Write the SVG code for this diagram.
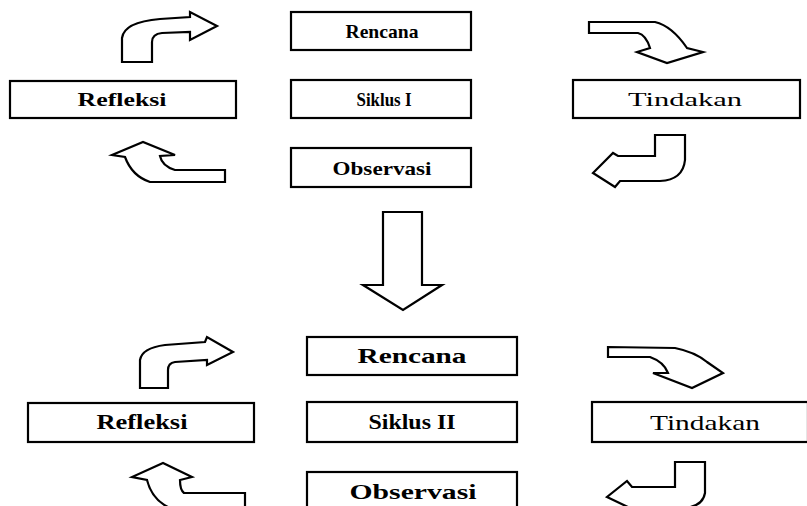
<svg xmlns="http://www.w3.org/2000/svg" width="807" height="506" viewBox="0 0 807 506">
<style>
.box{fill:#fff;stroke:#000;stroke-width:2.2}
.arr{fill:#fff;stroke:#000;stroke-width:2.2;stroke-linejoin:miter}
.t{font-family:"Liberation Serif","Times New Roman",serif;font-weight:bold;text-anchor:middle;fill:#000}
.s{font-size:19px}
.b{font-size:21px}
.n{font-weight:normal}
</style>
<rect width="807" height="506" fill="#fff"/>
<g id="rencana1"><rect class="box" x="291" y="12" width="180" height="38"/><text class="t s" x="382" y="38" textLength="73" lengthAdjust="spacingAndGlyphs">Rencana</text></g>
<g id="siklus1"><rect class="box" x="291" y="80" width="180" height="38"/><text class="t s" x="384" y="106" textLength="55" lengthAdjust="spacingAndGlyphs">Siklus I</text></g>
<g id="observasi1"><rect class="box" x="291" y="148" width="180" height="39"/><text class="t s" x="382" y="175" textLength="99" lengthAdjust="spacingAndGlyphs">Observasi</text></g>
<g id="refleksi1"><rect class="box" x="10" y="81" width="226" height="37"/><text class="t s" x="122" y="106" textLength="89" lengthAdjust="spacingAndGlyphs">Refleksi</text></g>
<g id="tindakan1"><rect class="box" x="573" y="80" width="227" height="38"/><text class="t s n" x="685" y="106" textLength="114" lengthAdjust="spacingAndGlyphs">Tindakan</text></g>
<g id="rencana2"><rect class="box" x="307" y="337" width="210" height="38"/><text class="t b" x="412" y="363" textLength="109" lengthAdjust="spacingAndGlyphs">Rencana</text></g>
<g id="siklus2"><rect class="box" x="307" y="402" width="210" height="40"/><text class="t b" x="412" y="429" textLength="87" lengthAdjust="spacingAndGlyphs">Siklus II</text></g>
<g id="observasi2"><rect class="box" x="307" y="472" width="210" height="40"/><text class="t b" x="413" y="499" textLength="127" lengthAdjust="spacingAndGlyphs">Observasi</text></g>
<g id="refleksi2"><rect class="box" x="28" y="403" width="226" height="39"/><text class="t b" x="142" y="429" textLength="91" lengthAdjust="spacingAndGlyphs">Refleksi</text></g>
<g id="tindakan2"><rect class="box" x="592" y="402" width="216" height="40"/><text class="t b n" x="705" y="430" textLength="110" lengthAdjust="spacingAndGlyphs">Tindakan</text></g>
<g id="connectors">
<path class="arr" d="M122,62 L122,38 Q124,22 160,19 L190,17 L190,12 L217,26 L190,40 L190,32 L162,33 Q152,34 152,42 L152,62 Z"/>
<path class="arr" d="M175,155 L143,142 L112,155 L125,157 Q132,176 150,182 L225,182 L225,170 L175,170 Q162,166 160,156 Z"/>
<path class="arr" d="M589,22 L655,22 Q672,26 687,48 L703,52 L667,63 L637,52 L650,48 Q646,35 638,33 L589,33 Z"/>
<path class="arr" d="M655,135 L685,135 L685,160 Q683,180 660,181 L620,181 L615,187 L593,173 L613,153 L618,156 L655,156 Z"/>
<path class="arr" d="M383,212 L422,212 L422,285 L442,285 L403,310 L363,285 L383,285 Z"/>
<path class="arr" d="M140,388 L140,360 Q142,348 165,345 L205,342 L207,337 L233,352 L207,365 L207,360 L175,362 Q168,363 168,370 L168,388 Z"/>
<path class="arr" d="M192,477 L163,463 L132,477 L147,480 Q152,500 170,508 L245,508 L245,493 L184,493 Q180,490 180,480 Z"/>
<path class="arr" d="M608,347 L675,348 Q695,352 707,362 L723,373 L692,388 L653,373 L668,373 Q664,362 650,357 L608,357 Z"/>
<path class="arr" d="M675,462 L705,462 L705,493 Q703,506 685,508 L630,508 L607,497 L627,481 L632,487 L675,487 Z"/>
</g>
</svg>
